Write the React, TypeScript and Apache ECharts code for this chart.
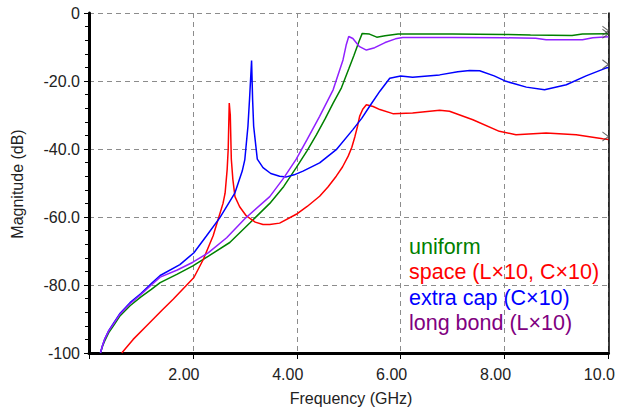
import React, { useEffect, useRef } from "react";
import * as echarts from "echarts";

const FONT = "'Liberation Sans', Arial, sans-serif";

const xTickLabels = ["", "2.00", "4.00", "6.00", "8.00", "10.0"];
const yTickLabels = ["-100", "-80.0", "-60.0", "-40.0", "-20.0", "0"];

const seriesNames = ["uniform", "space (L×10, C×10)", "extra cap (C×10)", "long bond (L×10)"];

const uniform: number[][] = [
  [0.22, -100], [0.26, -98], [0.3, -96.5], [0.38, -94], [0.47, -92], [0.6, -89], [0.79, -86.1],
  [1.0, -83.5], [1.2, -81.3], [1.37, -79.3], [1.7, -76.8], [2.0, -74.4], [2.3, -71.5],
  [2.71, -67.5], [3.1, -61.7], [3.48, -56.0], [3.75, -51.0], [3.99, -45.5], [4.2, -40.5],
  [4.38, -35.8], [4.55, -31.0], [4.7, -26.5], [4.86, -22.0], [5.0, -16.5], [5.1, -12.5],
  [5.2, -8.3], [5.26, -6.0], [5.4, -6.2], [5.54, -7.1], [5.7, -6.7], [5.95, -6.2],
  [7.0, -6.2], [8.0, -6.3], [8.5, -6.5], [9.3, -6.6], [9.5, -6.2], [10.0, -6.1],
];

const space: number[][] = [
  [0.63, -100], [0.85, -96], [1.11, -92], [1.4, -87.5], [1.62, -84.2], [1.85, -80.5],
  [2.02, -77.8], [2.2, -72.5], [2.39, -65.5], [2.5, -60], [2.58, -56], [2.62, -53],
  [2.66, -46], [2.68, -40], [2.70, -26.5], [2.72, -30], [2.74, -43], [2.77, -49],
  [2.81, -54], [2.9, -57], [3.03, -59.7], [3.2, -61.5], [3.35, -62.2], [3.48, -62.2],
  [3.67, -61.8], [3.99, -59.2], [4.2, -56.9], [4.44, -53.9], [4.6, -51.2], [4.76, -48.0],
  [4.88, -45.3], [4.99, -42.1], [5.06, -39.5], [5.12, -36.3], [5.17, -33.3], [5.21, -30.4],
  [5.27, -28.3], [5.34, -27.0], [5.47, -27.5], [5.6, -28.4], [5.85, -29.6], [6.23, -29.4],
  [6.75, -28.6], [6.94, -28.9], [7.39, -31.4], [7.9, -34.8], [8.22, -35.8], [8.8, -35.3],
  [9.38, -35.8], [9.89, -37.0], [10.0, -37.2],
];

const extraCap: number[][] = [
  [0.22, -100], [0.26, -97.8], [0.3, -96], [0.38, -93.4], [0.47, -91.3], [0.6, -88.3],
  [0.79, -85.2], [1.0, -82.5], [1.2, -79.6], [1.37, -77.2], [1.75, -74.0], [2.02, -70.5],
  [2.26, -65.6], [2.52, -60.2], [2.81, -52.9], [2.95, -46.5], [3.0, -43.1], [3.06, -33.3],
  [3.09, -25.5], [3.13, -14.0], [3.15, -25.5], [3.17, -33.3], [3.24, -43], [3.35, -45.5],
  [3.5, -47.2], [3.67, -48.0], [3.8, -48.2], [3.95, -47.6], [4.12, -46.5], [4.44, -44.1],
  [4.76, -40.2], [5.08, -34.3], [5.25, -31.0], [5.4, -27.5], [5.6, -23.0], [5.79, -19.2],
  [6.0, -18.5], [6.23, -18.9], [6.75, -18.2], [7.1, -17.3], [7.33, -16.9], [7.52, -17.0],
  [7.8, -18.5], [8.03, -20.1], [8.42, -21.8], [8.77, -22.6], [9.19, -21.1], [9.57, -18.5],
  [9.95, -16.2], [10.0, -16.0],
];

const longBond: number[][] = [
  [0.22, -100], [0.26, -97.8], [0.3, -96], [0.38, -93.5], [0.47, -91.5], [0.6, -88.5],
  [0.79, -85.5], [1.0, -82.8], [1.2, -80.0], [1.37, -77.7], [1.7, -75.6], [2.0, -73.3],
  [2.3, -70.5], [2.65, -66.1], [3.0, -60.5], [3.48, -54.0], [3.75, -48.5], [3.99, -43.0],
  [4.2, -37.2], [4.44, -30.4], [4.7, -22.6], [4.89, -13.8], [4.95, -9.5], [5.0, -6.9],
  [5.08, -7.5], [5.2, -9.8], [5.34, -10.9], [5.5, -10.2], [5.7, -8.7], [5.9, -7.6],
  [6.04, -7.2], [7.0, -7.2], [8.0, -7.3], [8.6, -7.4], [8.8, -7.9], [9.5, -7.9],
  [9.7, -7.3], [10.0, -7.0],
];

const lineColors = ["#008000", "#ff0000", "#0000ff", "#9020ff"];
const legendColors = ["#008000", "#ff0000", "#0000ff", "#800080"];

export default function App() {
  const ref = useRef<HTMLDivElement>(null);
  useEffect(() => {
    if (!ref.current) return;
    const chart = echarts.init(ref.current, null, { renderer: "svg" });
    const all = [uniform, space, extraCap, longBond];
    const lineSeries = all.map((d, i) => ({
      type: "line",
      name: seriesNames[i],
      data: d,
      showSymbol: false,
      symbol: "none",
      lineStyle: { color: lineColors[i], width: 1.5 },
      z: 3,
    }));
    const ends = all.map((d) => d[d.length - 1]);
    const legendY = [246.5, 272, 297.5, 323];
    chart.setOption({
      animation: false,
      grid: { left: 89, right: 9, top: 13, bottom: 58 },
      xAxis: {
        type: "value",
        min: 0,
        max: 10,
        interval: 2,
        axisLine: { show: true, onZero: false, lineStyle: { color: "#000", width: 3 } },
        axisTick: { show: true, length: 6, lineStyle: { color: "#000", width: 1 } },
        axisLabel: {
          formatter: (v: number) => xTickLabels[Math.round(v / 2)] ?? "",
          color: "#222",
          fontSize: 16,
          fontFamily: FONT,
          margin: 13,
          padding: [0, 18, 0, 0],
        },
        splitLine: { show: true, lineStyle: { color: "#8c8c8c", type: [5, 4], width: 1 } },
      },
      yAxis: [
        {
          type: "value",
          min: -100,
          max: 0,
          interval: 20,
          axisLine: { show: true, onZero: false, lineStyle: { color: "#000", width: 3 } },
          axisTick: { show: true, length: 5, lineStyle: { color: "#000" } },
          minorTick: { show: true, splitNumber: 5, length: 4, lineStyle: { color: "#000" } },
          axisLabel: {
            formatter: (v: number) => yTickLabels[Math.round((v + 100) / 20)] ?? "",
            color: "#222",
            fontSize: 16,
            fontFamily: FONT,
            margin: 9,
          },
          splitLine: { show: true, lineStyle: { color: "#8c8c8c", type: [5, 4], width: 1 } },
        },
        {
          type: "value",
          min: -100,
          max: 0,
          interval: 20,
          position: "right",
          axisLine: { show: true, onZero: false, lineStyle: { color: "#000", width: 1.5 } },
          axisTick: { show: false },
          axisLabel: { show: false },
          splitLine: { show: false },
        },
      ],
      series: [
        ...lineSeries,
        {
          type: "scatter",
          data: ends,
          symbol: "path://M0,0L8,5L0,10",
          symbolSize: [6, 9],
          symbolOffset: [-3, -3],
          itemStyle: { color: "rgba(0,0,0,0)", borderColor: "#444", borderWidth: 1 },
          z: 4,
          silent: true,
        },
      ],
      graphic: [
        {
          type: "text",
          x: 17,
          y: 184,
          rotation: Math.PI / 2,
          style: {
            text: "Magnitude (dB)",
            fill: "#222",
            font: `16px ${FONT}`,
            align: "center",
            verticalAlign: "middle",
          },
        },
        {
          type: "text",
          x: 351,
          y: 398,
          style: {
            text: "Frequency (GHz)",
            fill: "#222",
            font: `16px ${FONT}`,
            align: "center",
            verticalAlign: "middle",
          },
        },
        ...seriesNames.map((n, i) => ({
          type: "text",
          x: 409,
          y: legendY[i],
          style: {
            text: n,
            fill: legendColors[i],
            font: `21.5px ${FONT}`,
            align: "left",
            verticalAlign: "middle",
          },
          z: 10,
        })),
      ],
    });
    return () => chart.dispose();
  }, []);
  return (
    <div
      ref={ref}
      style={{ position: "absolute", left: 0, top: 0, width: 618, height: 411, overflow: "visible" }}
    />
  );
}
